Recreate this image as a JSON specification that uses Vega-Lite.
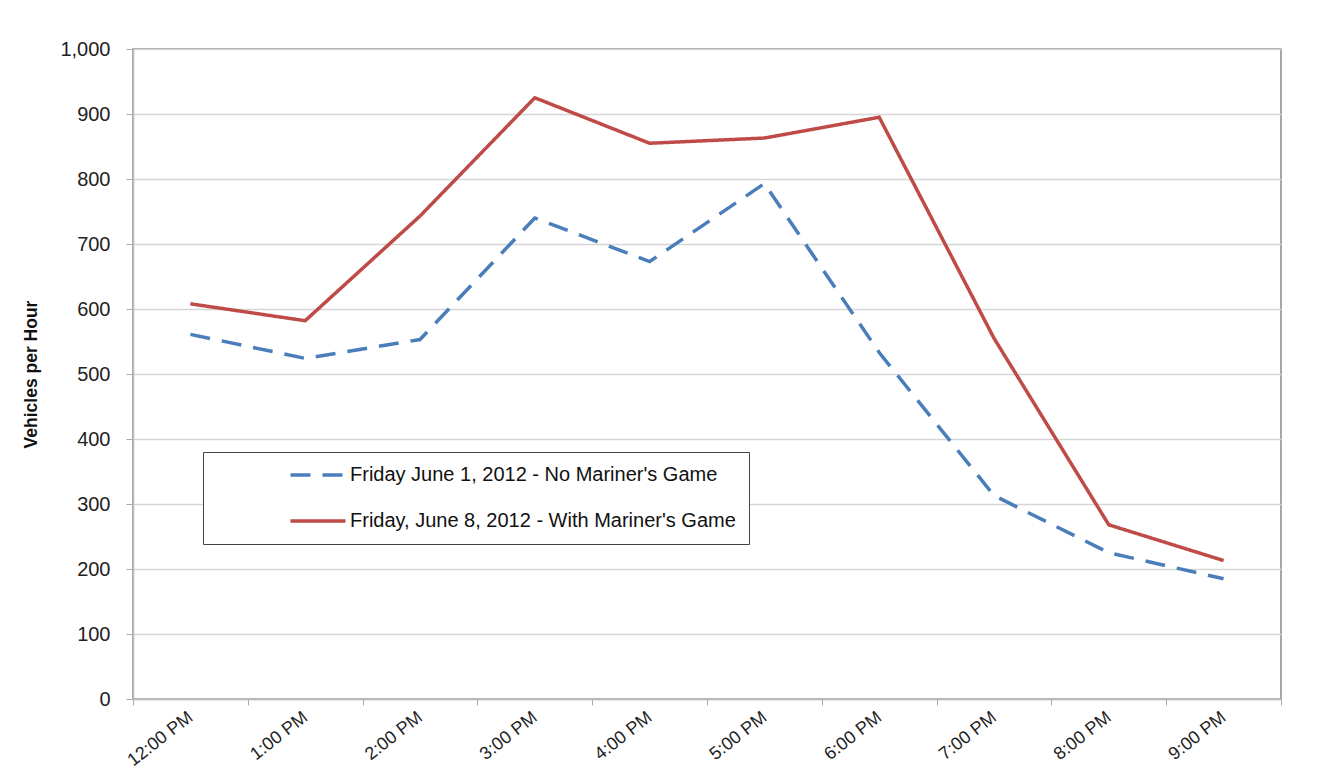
{
  "$schema": "https://vega.github.io/schema/vega-lite/v6.json",
  "autosize": "none",
  "width": 1148,
  "height": 650,
  "padding": {"left": 133, "top": 49, "right": 45, "bottom": 83},
  "background": "white",
  "config": {
    "font": "Liberation Sans",
    "view": {"stroke": "#8a8a8a", "strokeWidth": 1.5}
  },
  "data": {
    "values": [
      {"time": "12:00 PM", "series": "Friday June 1, 2012 - No Mariner's Game", "value": 561},
      {"time": "1:00 PM", "series": "Friday June 1, 2012 - No Mariner's Game", "value": 524},
      {"time": "2:00 PM", "series": "Friday June 1, 2012 - No Mariner's Game", "value": 553},
      {"time": "3:00 PM", "series": "Friday June 1, 2012 - No Mariner's Game", "value": 740},
      {"time": "4:00 PM", "series": "Friday June 1, 2012 - No Mariner's Game", "value": 673},
      {"time": "5:00 PM", "series": "Friday June 1, 2012 - No Mariner's Game", "value": 793},
      {"time": "6:00 PM", "series": "Friday June 1, 2012 - No Mariner's Game", "value": 533},
      {"time": "7:00 PM", "series": "Friday June 1, 2012 - No Mariner's Game", "value": 313},
      {"time": "8:00 PM", "series": "Friday June 1, 2012 - No Mariner's Game", "value": 225},
      {"time": "9:00 PM", "series": "Friday June 1, 2012 - No Mariner's Game", "value": 185},
      {"time": "12:00 PM", "series": "Friday, June 8, 2012 - With Mariner's Game", "value": 608},
      {"time": "1:00 PM", "series": "Friday, June 8, 2012 - With Mariner's Game", "value": 582},
      {"time": "2:00 PM", "series": "Friday, June 8, 2012 - With Mariner's Game", "value": 743},
      {"time": "3:00 PM", "series": "Friday, June 8, 2012 - With Mariner's Game", "value": 925},
      {"time": "4:00 PM", "series": "Friday, June 8, 2012 - With Mariner's Game", "value": 855},
      {"time": "5:00 PM", "series": "Friday, June 8, 2012 - With Mariner's Game", "value": 863},
      {"time": "6:00 PM", "series": "Friday, June 8, 2012 - With Mariner's Game", "value": 895},
      {"time": "7:00 PM", "series": "Friday, June 8, 2012 - With Mariner's Game", "value": 555},
      {"time": "8:00 PM", "series": "Friday, June 8, 2012 - With Mariner's Game", "value": 268},
      {"time": "9:00 PM", "series": "Friday, June 8, 2012 - With Mariner's Game", "value": 213}
    ]
  },
  "mark": {"type": "line", "strokeWidth": 3.5},
  "encoding": {
    "x": {
      "field": "time",
      "type": "nominal",
      "sort": ["12:00 PM", "1:00 PM", "2:00 PM", "3:00 PM", "4:00 PM", "5:00 PM", "6:00 PM", "7:00 PM", "8:00 PM", "9:00 PM"],
      "scale": {"paddingInner": 0, "paddingOuter": 0},
      "axis": {
        "title": null,
        "tickBand": "extent",
        "labelAngle": -38,
        "labelAlign": "right",
        "labelBaseline": "middle",
        "labelFontSize": 18,
        "labelColor": "#222",
        "labelPadding": 10,
        "tickColor": "#aaa",
        "tickSize": 6,
        "domainColor": "#bbb",
        "domainWidth": 1.5,
        "grid": false
      }
    },
    "y": {
      "field": "value",
      "type": "quantitative",
      "scale": {"domain": [0, 1000], "nice": false},
      "axis": {
        "title": "Vehicles per Hour",
        "titleFontSize": 17.5,
        "titleFontWeight": "bold",
        "titleColor": "#111",
        "titlePadding": 19,
        "values": [0, 100, 200, 300, 400, 500, 600, 700, 800, 900, 1000],
        "format": ",d",
        "labelFontSize": 20,
        "labelColor": "#222",
        "labelPadding": 16,
        "tickColor": "#aaa",
        "tickSize": 7,
        "domainColor": "#bbb",
        "domainWidth": 1.5,
        "gridColor": "#d6d6d6",
        "gridWidth": 1.5
      }
    },
    "color": {
      "field": "series",
      "type": "nominal",
      "scale": {
        "domain": ["Friday June 1, 2012 - No Mariner's Game", "Friday, June 8, 2012 - With Mariner's Game"],
        "range": ["#4a7ebb", "#be4b48"]
      },
      "legend": {
        "title": null,
        "orient": "none",
        "legendX": 70,
        "legendY": 403,
        "direction": "vertical",
        "strokeColor": "#444",
        "fillColor": "white",
        "padding": 13,
        "symbolOffset": 92,
        "symbolType": "M -4 0 L 4 0",
        "symbolSize": 189,
        "symbolStrokeWidth": 3.5,
        "labelFontSize": 20,
        "labelColor": "#111",
        "labelOffset": 22,
        "labelLimit": 700,
        "rowPadding": 26
      }
    },
    "strokeDash": {
      "field": "series",
      "type": "nominal",
      "scale": {
        "domain": ["Friday June 1, 2012 - No Mariner's Game", "Friday, June 8, 2012 - With Mariner's Game"],
        "range": [[20, 12], [1, 0]]
      },
      "legend": null
    }
  }
}
